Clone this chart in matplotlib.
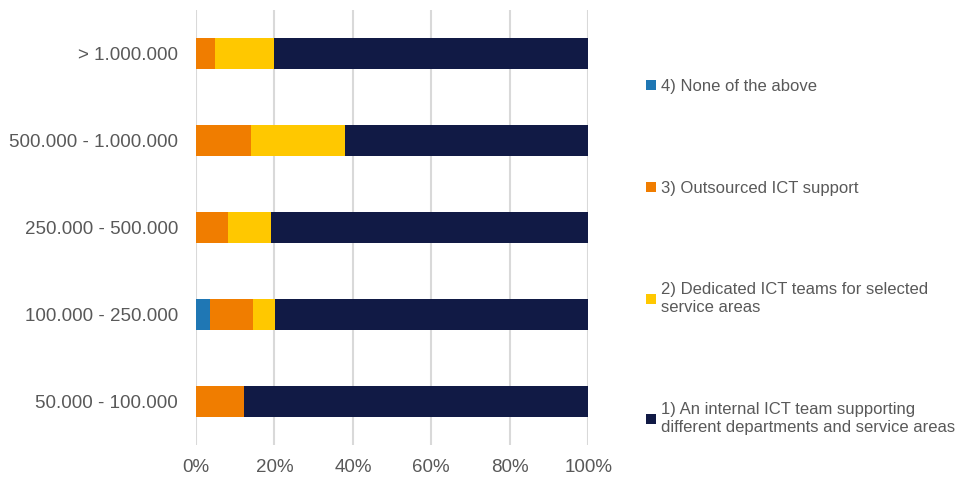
import matplotlib.pyplot as plt
import numpy as np
from matplotlib.ticker import PercentFormatter

plt.rcParams['font.family'] = ['Liberation Sans', 'DejaVu Sans']

# population groups, bottom to top
groups = ['50.000 - 100.000', '100.000 - 250.000', '250.000 - 500.000',
          '500.000 - 1.000.000', '> 1.000.000']

# shares per answer (fractions), same order as groups
none_above = [0.0, 0.036, 0.0, 0.0, 0.0]
outsourced = [0.123, 0.109, 0.081, 0.140, 0.048]
dedicated = [0.0, 0.057, 0.111, 0.239, 0.151]
internal = [0.877, 0.798, 0.808, 0.621, 0.801]

series = [
    (none_above, '4) None of the above', '#1F77B4'),
    (outsourced, '3) Outsourced ICT support', '#F07D00'),
    (dedicated, '2) Dedicated ICT teams for selected\nservice areas', '#FFC800'),
    (internal, '1) An internal ICT team supporting\ndifferent departments and service areas', '#111A45'),
]

text_col = '#595959'

fig = plt.figure(figsize=(9.61, 4.83), dpi=100)
ax = fig.add_axes([0.204, 0.079, 0.408, 0.900])

y = np.arange(len(groups))
left = np.zeros(len(groups))
handles = []
for vals, label, col in series:
    b = ax.barh(y, vals, left=left, height=0.36, color=col, label=label, zorder=3)
    handles.append(b)
    left += np.array(vals)

ax.set_xlim(0, 1)
ax.set_ylim(-0.5, len(groups) - 0.5)
ax.set_yticks(y)
ax.set_yticklabels(groups)
ax.set_xticks(np.linspace(0, 1, 6))
ax.xaxis.set_major_formatter(PercentFormatter(1.0, decimals=0))
ax.tick_params(axis='both', length=0, labelsize=13.5, colors=text_col)
ax.tick_params(axis='y', pad=13)
ax.tick_params(axis='x', pad=10)
ax.grid(axis='x', color='#D9D9D9', linewidth=1.5, zorder=0)
for s in ax.spines.values():
    s.set_visible(False)

leg = fig.legend(handles=handles, loc='center left', bbox_to_anchor=(0.657, 0.468),
                 frameon=False, fontsize=12, labelcolor=text_col,
                 handlelength=0.55, handleheight=0.55, handletextpad=0.35,
                 labelspacing=5.2)
for t in leg.get_texts():
    t.set_linespacing(1.25)

fig.savefig('out.png', dpi=100)
